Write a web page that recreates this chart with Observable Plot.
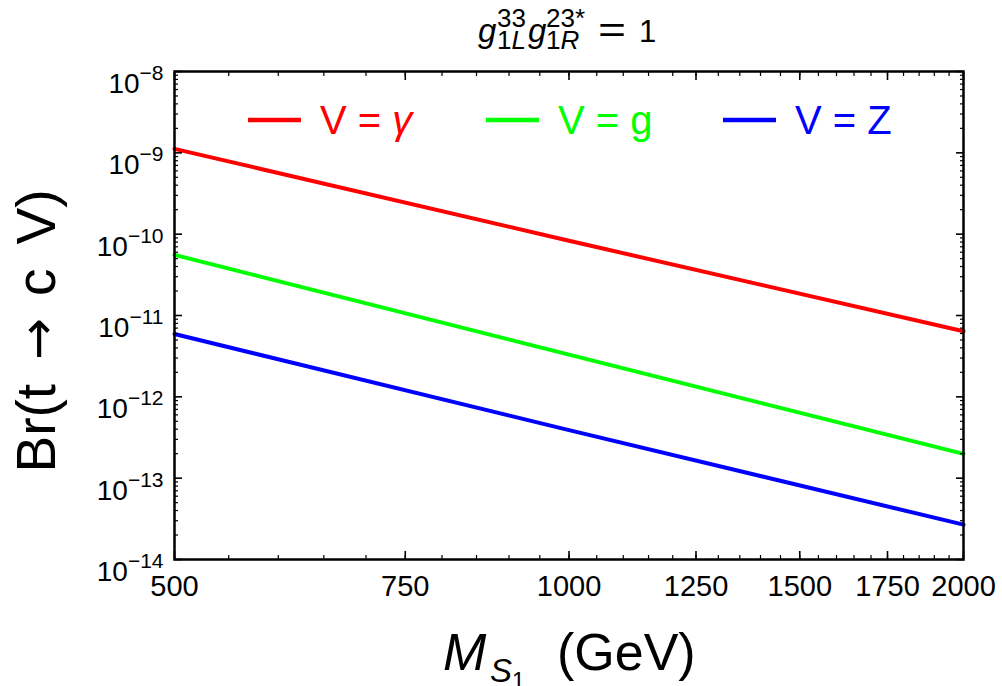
<!DOCTYPE html>
<html><head><meta charset="utf-8">
<script src="https://cdn.jsdelivr.net/npm/d3@7"></script>
<script src="https://cdn.jsdelivr.net/npm/@observablehq/plot@0.6"></script>
<style>
body{margin:0;background:#fff;}
svg{font-family:"Liberation Sans",Arial,sans-serif;}
</style>
</head><body><div id="chart"></div>
<script>
// ---- data ----
const masses = [500, 1000, 2000];                 // M_S1 (GeV)
const brPhoton = [1.12e-9, 8.3e-11, 6.4e-12];      // V = γ
const brGluon  = [5.56e-11, 3.3e-12, 1.99e-13];    // V = g
const brZ      = [5.93e-12, 3.9e-13, 2.68e-14];    // V = Z
const seriesNames  = ["V = γ", "V = g", "V = Z"];
const seriesColors = ["#ff0000", "#00ff00", "#0000ff"];
const xTickValues = [500, 750, 1000, 1250, 1500, 1750, 2000];
const xMinorStep = 50;
const yExponents = [-14, -13, -12, -11, -10, -9, -8];

const seriesValues = [brPhoton, brGluon, brZ];
const rows = [];
seriesValues.forEach((vals, s) => vals.forEach((v, i) => rows.push({m: masses[i], br: v, series: seriesNames[s]})));

const xMinor = d3.range(xTickValues[0], xTickValues[xTickValues.length - 1] + 1, xMinorStep);
const yMajor = yExponents.map(e => Math.pow(10, e));
const yMinor = [];
yExponents.slice(0, -1).forEach(e => { for (let k = 2; k <= 9; k++) yMinor.push(k * Math.pow(10, e)); });

const tickCommon = {fill: "none", label: null, stroke: "black"};
const plot = Plot.plot({
  width: 1002, height: 686,
  marginLeft: 174, marginRight: 39, marginTop: 71, marginBottom: 127,
  style: {background: "white", fontFamily: '"Liberation Sans", Arial, sans-serif', color: "black"},
  x: {type: "log", domain: [500, 2000], axis: null},
  y: {type: "log", domain: [1e-14, 1e-8], axis: null},
  color: {domain: seriesNames, range: seriesColors},
  marks: [
    Plot.line(rows, {x: "m", y: "br", z: "series", stroke: "series", strokeWidth: 4}),
    // minor & major ticks inward on all four sides
    Plot.axisX(xMinor, {...tickCommon, anchor: "bottom", tickSize: -4, strokeWidth: 1.2}),
    Plot.axisX(xMinor, {...tickCommon, anchor: "top", tickSize: -4, strokeWidth: 1.2}),
    Plot.axisX(xTickValues, {...tickCommon, anchor: "bottom", tickSize: -8, strokeWidth: 1.6}),
    Plot.axisX(xTickValues, {...tickCommon, anchor: "top", tickSize: -8, strokeWidth: 1.6}),
    Plot.axisY(yMinor, {...tickCommon, anchor: "left", tickSize: -4, strokeWidth: 1.2}),
    Plot.axisY(yMinor, {...tickCommon, anchor: "right", tickSize: -4, strokeWidth: 1.2}),
    Plot.axisY(yMajor, {...tickCommon, anchor: "left", tickSize: -8, strokeWidth: 1.6}),
    Plot.axisY(yMajor, {...tickCommon, anchor: "right", tickSize: -8, strokeWidth: 1.6}),
    // tick labels
    Plot.axisX(xTickValues, {anchor: "bottom", tickSize: 0, tickPadding: 16, fontSize: 29, label: null, tickFormat: d => String(d)}),
    Plot.axisY(yMajor, {anchor: "left", tickSize: 0, tickPadding: 11, fontSize: 28, label: null,
      tickFormat: d => "10^" + String(Math.round(Math.log10(d))).replace("-", "\u2212")}),
    Plot.frame({stroke: "black", strokeWidth: 2.5})
  ]
});
document.getElementById("chart").appendChild(plot);

const svg = d3.select(plot);
// superscript exponents on the y tick labels
svg.selectAll('g[aria-label="y-axis tick label"] text').each(function() {
  const t = d3.select(this);
  const parts = t.text().split("^");
  if (parts.length !== 2) return;
  t.text(parts[0]).attr("dy", "0.45em");
  t.append("tspan").attr("dy", "-0.62em").attr("font-size", 21).text(parts[1]);
});

const font = '"Liberation Sans", Arial, sans-serif';
function txt(x, y, s, size, opts = {}) {
  const t = svg.append("text").attr("x", x).attr("y", y).attr("font-size", size)
    .attr("font-family", font).attr("fill", opts.fill || "black")
    .attr("text-anchor", opts.anchor || "start");
  if (opts.italic) t.attr("font-style", "italic");
  t.text(s);
  return t;
}

// title  g^{33}_{1L} g^{23*}_{1R} = 1
txt(478, 42, "g", 33, {italic: true});
txt(497, 27, "33", 26);
const s1 = txt(497, 49, "1", 26); s1.append("tspan").attr("font-style", "italic").text("L");
txt(528, 42, "g", 33, {italic: true});
txt(546, 27, "23*", 26);
const s2 = txt(546, 49, "1", 26); s2.append("tspan").attr("font-style", "italic").text("R");
txt(598, 42, "=", 36).attr("textLength", 28).attr("lengthAdjust", "spacingAndGlyphs");
txt(639, 42, "1", 31);

// legend
const legendX = [248, 486, 723];
seriesNames.forEach((name, i) => {
  svg.append("line").attr("x1", legendX[i]).attr("x2", legendX[i] + 53)
    .attr("y1", 120).attr("y2", 120).attr("stroke", seriesColors[i]).attr("stroke-width", 4.5);
  const parts = name.split("= ");
  const t = txt(legendX[i] + 72, 134, parts[0] + "= ", 40, {fill: seriesColors[i]});
  const last = t.append("tspan").text(parts[1]);
  if (parts[1] === "γ") last.attr("font-style", "italic");
});

// x axis label  M_{S_1} (GeV)
txt(443, 670, "M", 52, {italic: true});
txt(490, 682, "S", 33, {italic: true});
txt(512, 689, "1", 23);
txt(557, 670, "(GeV)", 52);

// y axis label
const yl = svg.append("text").attr("transform", "translate(55,331) rotate(-90)")
  .attr("text-anchor", "middle").attr("font-size", 55).attr("font-family", font);
yl.append("tspan").text("Br(t");
yl.append("tspan").attr("dx", 24).attr("font-family", '"DejaVu Sans", sans-serif').attr("font-size", 50).text("\u2192");
yl.append("tspan").attr("dx", 22).text("c");
yl.append("tspan").attr("dx", 24).text("V)");
</script>
</body></html>
